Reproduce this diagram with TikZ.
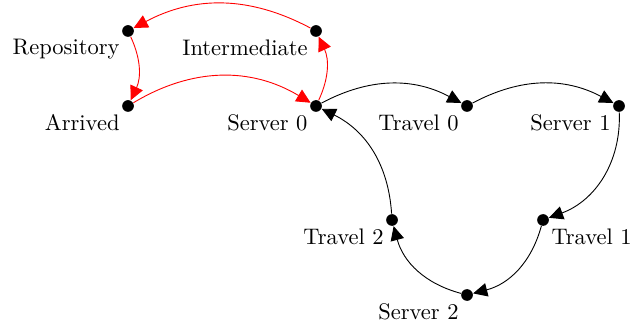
\documentclass[tikz,border=0pt]{standalone}
\usetikzlibrary{arrows.meta}
\begin{document}
\begin{tikzpicture}[x=0.4444pt,y=0.4444pt,
  dot/.style={circle,fill=black,inner sep=0pt,minimum size=5.2pt},
  every label/.style={inner sep=1.6pt},
  flow/.style={-{Triangle[length=6.3pt,width=6pt]}},
  redflow/.style={flow,red}]
\useasboundingbox (0,0) rectangle (641,322);
\node[dot,label=below left:Repository] (rep) at (128,291) {};
\node[dot,label=below left:Intermediate] (int) at (316,291) {};
\node[dot,label=below left:Arrived] (arr) at (128,216) {};
\node[dot,label=below left:Server 0] (s0) at (316,216) {};
\node[dot,label=below left:Travel 0] (t0) at (467,216) {};
\node[dot,label=below left:Server 1] (s1) at (619,216) {};
\node[dot,label=below right:Travel 1] (t1) at (543,102) {};
\node[dot,label=below left:Travel 2] (t2) at (392,102) {};
\node[dot,label=below left:Server 2] (s2) at (467,27) {};
\draw[redflow] (rep) to[bend left=25] (arr);
\draw[redflow] (arr) to[bend left=31] (s0);
\draw[redflow] (s0) to[bend right=25] (int);
\draw[redflow] (int) to[bend right=28] (rep);
\draw[flow] (s0) to[bend left=28] (t0);
\draw[flow] (t0) to[bend left=28] (s1);
\draw[flow] (s1) to[bend left=36] (t1);
\draw[flow] (t1) to[bend left=30] (s2);
\draw[flow] (s2) to[bend left=30] (t2);
\draw[flow] (t2) to[bend right=30] (s0);
\end{tikzpicture}
\end{document}
